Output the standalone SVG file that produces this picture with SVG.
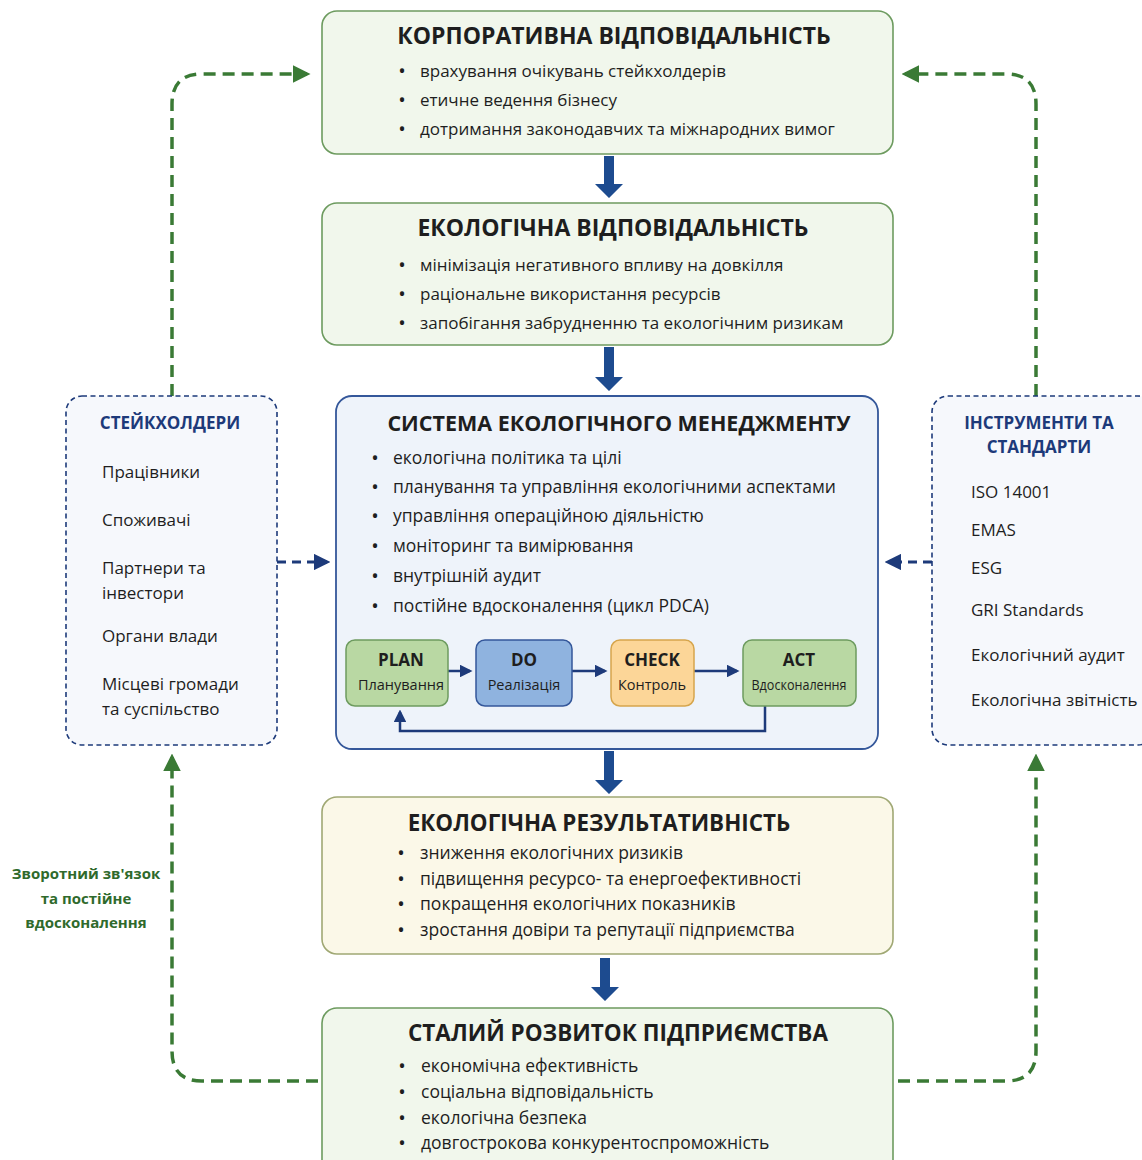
<svg xmlns="http://www.w3.org/2000/svg" width="1142" height="1160" viewBox="0 0 1142 1160">
  <defs>
    <style>
      text { font-family: "Open Sans", "Noto Sans", "DejaVu Sans", sans-serif; fill: #1e1e1e; }
      .title { font-size: 23px; font-weight: 700; text-anchor: middle; }
      .item { font-size: 17px; }
      .item-l { font-size: 17.5px; }
      .bul { font-size: 20px; text-anchor: middle; }
      .side-title { font-size: 17px; font-weight: 700; fill: #1d3a7a; text-anchor: middle; }
      .side-item { font-size: 17px; }
      .pd-head { font-size: 17px; font-weight: 700; text-anchor: middle; }
      .pd-sub { font-size: 14.5px; text-anchor: middle; }
      .fb-label { font-size: 15px; font-weight: 700; fill: #2f6a2c; text-anchor: middle; }
      .box-green { fill: #f1f7ec; stroke: #6d9b5f; stroke-width: 1.6; }
      .box-blue { fill: #eef3fa; stroke: #34579a; stroke-width: 1.8; }
      .box-cream { fill: #fbf8e8; stroke: #a0a874; stroke-width: 1.6; }
      .box-side { fill: #f6f8fc; stroke: #1d3a7a; stroke-width: 1.6; stroke-dasharray: 5 3.5; }
      .flow { fill: #1d4b8f; }
      .fb { fill: none; stroke: #3a7a35; stroke-width: 3.5; stroke-dasharray: 12 7; }
      .side-link { fill: none; stroke: #1d3a7a; stroke-width: 3; stroke-dasharray: 9 6; }
      .pdca-link { fill: none; stroke: #1d3a7a; stroke-width: 2.5; }
    </style>
    <marker id="greenHead" viewBox="0 0 10 10" refX="8" refY="5" markerWidth="5" markerHeight="5" orient="auto" markerUnits="strokeWidth">
      <path d="M0,0 L10,5 L0,10 z" fill="#3a7a35"/>
    </marker>
    <marker id="navyHead" viewBox="0 0 10 10" refX="8" refY="5" markerWidth="5.5" markerHeight="5.5" orient="auto" markerUnits="strokeWidth">
      <path d="M0,0 L10,5 L0,10 z" fill="#1d3a7a"/>
    </marker>
    <marker id="smallHead" viewBox="0 0 10 10" refX="8" refY="5" markerWidth="5" markerHeight="5" orient="auto" markerUnits="strokeWidth">
      <path d="M0,0 L10,5 L0,10 z" fill="#1d3a7a"/>
    </marker>
  </defs>

  <rect width="1142" height="1160" fill="#ffffff"/>

  <!-- connectors -->
  <g id="connectors">
    <!-- main downward flow -->
    <path class="flow" d="M604,156 h10 v28 h9 l-14,14 l-14,-14 h9 z"/>
    <path class="flow" d="M604,347 h10 v30 h9 l-14,14 l-14,-14 h9 z"/>
    <path class="flow" d="M604,751 h10 v29 h9 l-14,14 l-14,-14 h9 z"/>
    <path class="flow" d="M600,958 h10 v29 h9 l-14,14 l-14,-14 h9 z"/>

    <!-- stakeholder and standards inputs -->
    <path class="side-link" d="M277,562 H327" marker-end="url(#navyHead)"/>
    <path class="side-link" d="M932,562 H888" marker-end="url(#navyHead)"/>

    <!-- feedback loop -->
    <path class="fb" d="M172,396 V104 Q172,74 202,74 H307" marker-end="url(#greenHead)"/>
    <path class="fb" d="M1036,396 V104 Q1036,74 1006,74 H905" marker-end="url(#greenHead)"/>
    <path class="fb" d="M318,1081 H202 Q172,1081 172,1051 V757" marker-end="url(#greenHead)"/>
    <path class="fb" d="M898,1081 H1006 Q1036,1081 1036,1051 V757" marker-end="url(#greenHead)"/>
  </g>

  <g id="feedback-label">
    <text class="fb-label" x="86" y="879">Зворотний зв'язок</text>
    <text class="fb-label" x="86" y="904">та постійне</text>
    <text class="fb-label" x="86" y="928">вдосконалення</text>
  </g>

  <!-- corporate responsibility -->
  <g id="corporate">
    <rect class="box-green" x="322" y="11" width="571" height="143" rx="15"/>
    <text class="title" x="614" y="44">КОРПОРАТИВНА ВІДПОВІДАЛЬНІСТЬ</text>
    <text class="bul" x="402" y="78">•</text><text class="item" x="420" y="77">врахування очікувань стейкхолдерів</text>
    <text class="bul" x="402" y="107">•</text><text class="item" x="420" y="106">етичне ведення бізнесу</text>
    <text class="bul" x="402" y="136">•</text><text class="item" x="420" y="135">дотримання законодавчих та міжнародних вимог</text>
  </g>

  <!-- ecological responsibility -->
  <g id="eco-responsibility">
    <rect class="box-green" x="322" y="203" width="571" height="142" rx="15"/>
    <text class="title" x="613" y="236">ЕКОЛОГІЧНА ВІДПОВІДАЛЬНІСТЬ</text>
    <text class="bul" x="402" y="272">•</text><text class="item" x="420" y="271">мінімізація негативного впливу на довкілля</text>
    <text class="bul" x="402" y="301">•</text><text class="item" x="420" y="300">раціональне використання ресурсів</text>
    <text class="bul" x="402" y="330">•</text><text class="item" x="420" y="329">запобігання забрудненню та екологічним ризикам</text>
  </g>

  <!-- environmental management system -->
  <g id="ems">
    <rect class="box-blue" x="336" y="396" width="542" height="353" rx="16"/>
    <text class="title" x="619" y="431" style="font-size:21.5px">СИСТЕМА ЕКОЛОГІЧНОГО МЕНЕДЖМЕНТУ</text>
    <text class="bul" x="375" y="465">•</text><text class="item-l" x="393" y="464">екологічна політика та цілі</text>
    <text class="bul" x="375" y="494">•</text><text class="item-l" x="393" y="493">планування та управління екологічними аспектами</text>
    <text class="bul" x="375" y="523">•</text><text class="item-l" x="393" y="522">управління операційною діяльністю</text>
    <text class="bul" x="375" y="553">•</text><text class="item-l" x="393" y="552">моніторинг та вимірювання</text>
    <text class="bul" x="375" y="583">•</text><text class="item-l" x="393" y="582">внутрішній аудит</text>
    <text class="bul" x="375" y="613">•</text><text class="item-l" x="393" y="612">постійне вдосконалення (цикл PDCA)</text>
  </g>

  <!-- PDCA cycle -->
  <g id="pdca-links">
    <path class="pdca-link" d="M448,671 H470" marker-end="url(#smallHead)"/>
    <path class="pdca-link" d="M572,671 H605" marker-end="url(#smallHead)"/>
    <path class="pdca-link" d="M694,671 H737" marker-end="url(#smallHead)"/>
    <path class="pdca-link" d="M765,706 V731 H400 V712" marker-end="url(#smallHead)"/>
  </g>
  <g id="plan">
    <rect x="346" y="640" width="102" height="66" rx="9" fill="#b9d8a3" stroke="#6d9b5f" stroke-width="1.5"/>
    <text class="pd-head" x="401" y="666">PLAN</text>
    <text class="pd-sub" x="401" y="690">Планування</text>
  </g>
  <g id="do">
    <rect x="476" y="640" width="96" height="66" rx="9" fill="#8fb3df" stroke="#34579a" stroke-width="1.5"/>
    <text class="pd-head" x="524" y="666">DO</text>
    <text class="pd-sub" x="524" y="690">Реалізація</text>
  </g>
  <g id="check">
    <rect x="611" y="640" width="83" height="66" rx="9" fill="#fcd698" stroke="#d6a54c" stroke-width="1.5"/>
    <text class="pd-head" x="652" y="666">CHECK</text>
    <text class="pd-sub" x="652" y="690">Контроль</text>
  </g>
  <g id="act">
    <rect x="743" y="640" width="113" height="66" rx="9" fill="#b9d8a3" stroke="#6d9b5f" stroke-width="1.5"/>
    <text class="pd-head" x="799" y="666">ACT</text>
    <text class="pd-sub" x="799" y="690" textLength="95" lengthAdjust="spacingAndGlyphs">Вдосконалення</text>
  </g>

  <!-- stakeholders -->
  <g id="stakeholders">
    <rect class="box-side" x="66" y="396" width="211" height="349" rx="16"/>
    <text class="side-title" x="170" y="429">СТЕЙКХОЛДЕРИ</text>
    <text class="side-item" x="102" y="478">Працівники</text>
    <text class="side-item" x="102" y="526">Споживачі</text>
    <text class="side-item" x="102" y="574">Партнери та</text>
    <text class="side-item" x="102" y="599">інвестори</text>
    <text class="side-item" x="102" y="642">Органи влади</text>
    <text class="side-item" x="102" y="690">Місцеві громади</text>
    <text class="side-item" x="102" y="715">та суспільство</text>
  </g>

  <!-- tools and standards -->
  <g id="standards">
    <rect class="box-side" x="932" y="396" width="222" height="349" rx="16"/>
    <text class="side-title" x="1039" y="429">ІНСТРУМЕНТИ ТА</text>
    <text class="side-title" x="1039" y="453">СТАНДАРТИ</text>
    <text class="side-item" x="971" y="498">ISO 14001</text>
    <text class="side-item" x="971" y="536">EMAS</text>
    <text class="side-item" x="971" y="574">ESG</text>
    <text class="side-item" x="971" y="616">GRI Standards</text>
    <text class="side-item" x="971" y="661">Екологічний аудит</text>
    <text class="side-item" x="971" y="706">Екологічна звітність</text>
  </g>

  <!-- environmental performance -->
  <g id="performance">
    <rect class="box-cream" x="322" y="797" width="571" height="157" rx="15"/>
    <text class="title" x="599" y="831" style="font-size:22.4px">ЕКОЛОГІЧНА РЕЗУЛЬТАТИВНІСТЬ</text>
    <text class="bul" x="401" y="860">•</text><text class="item-l" x="420" y="859">зниження екологічних ризиків</text>
    <text class="bul" x="401" y="886">•</text><text class="item-l" x="420" y="885">підвищення ресурсо- та енергоефективності</text>
    <text class="bul" x="401" y="911">•</text><text class="item-l" x="420" y="910">покращення екологічних показників</text>
    <text class="bul" x="401" y="937">•</text><text class="item-l" x="420" y="936">зростання довіри та репутації підприємства</text>
  </g>

  <!-- sustainable development -->
  <g id="sustainable">
    <rect class="box-green" x="322" y="1008" width="571" height="170" rx="15"/>
    <text class="title" x="618" y="1041" style="font-size:22.5px">СТАЛИЙ РОЗВИТОК ПІДПРИЄМСТВА</text>
    <text class="bul" x="402" y="1073">•</text><text class="item-l" x="421" y="1072">економічна ефективність</text>
    <text class="bul" x="402" y="1099">•</text><text class="item-l" x="421" y="1098">соціальна відповідальність</text>
    <text class="bul" x="402" y="1125">•</text><text class="item-l" x="421" y="1124">екологічна безпека</text>
    <text class="bul" x="402" y="1150">•</text><text class="item-l" x="421" y="1149">довгострокова конкурентоспроможність</text>
  </g>
</svg>
